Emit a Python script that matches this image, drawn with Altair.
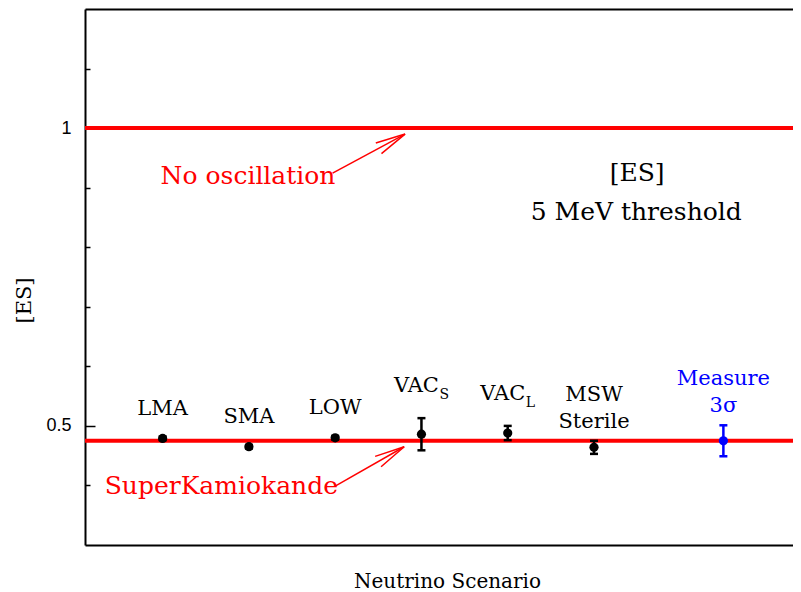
import math
import altair as alt
import pandas as pd

# ---------------- data ----------------
scenarios = ["LMA", "SMA", "LOW", "VAC_S", "VAC_L", "MSW Sterile", "Measure 3σ"]
x_pos = [1, 2, 3, 4, 5, 6, 7.5]
es_values = [0.479, 0.465, 0.480, 0.486, 0.488, 0.464, 0.475]
es_errors = [0.003, 0.003, 0.003, 0.027, 0.012, 0.011, 0.026]
label_main = ["LMA", "SMA", "LOW", "VAC", "VAC", "Sterile", "3σ"]
label_sub = ["", "", "", "S", "L", "", ""]
label_top = ["", "", "", "", "", "MSW", "Measure"]
kinds = ["model", "model", "model", "model", "model", "model", "measure"]

ref_names = ["No oscillation", "SuperKamiokande"]
ref_values = [1.0, 0.475]
ref_text_x = [1.99, 1.68]
ref_text_y = [0.906, 0.386]
arrow_x1 = [2.97, 3.00]
arrow_y1 = [0.9245, 0.399]
arrow_x2 = [3.81, 3.80]
arrow_y2 = [0.99, 0.465]

info_text = ["[ES]", "5 MeV threshold"]
info_x = [6.5, 6.49]
info_y = [0.911, 0.846]

major_ticks = [0.5, 1.0]
minor_ticks = [0.4, 0.6, 0.7, 0.8, 0.9, 1.1]

X_DOMAIN = [0.1, 8.307]
Y_DOMAIN = [0.3, 1.2]
W, H = 708, 536

# ---------------- tables ----------------
df = pd.DataFrame({
    "scenario": scenarios, "x": x_pos, "value": es_values, "err": es_errors,
    "main": label_main, "sub": label_sub, "top": label_top, "kind": kinds,
})
df["lower"] = df["value"] - df["err"]
df["upper"] = df["value"] + df["err"]
df_plain = df[(df["sub"] == "") & (df["top"] == "")]
df_vac = df[df["sub"] != ""]
df_top = df[df["top"] != ""]

ref = pd.DataFrame({
    "name": ref_names, "value": ref_values, "tx": ref_text_x, "ty": ref_text_y,
    "x1": arrow_x1, "y1": arrow_y1, "x2": arrow_x2, "y2": arrow_y2,
})
px_x = W / (X_DOMAIN[1] - X_DOMAIN[0])
px_y = H / (Y_DOMAIN[1] - Y_DOMAIN[0])
ref["angle"] = [
    (math.degrees(math.atan2(-(b2 - b1) * px_y, (a2 - a1) * px_x)) + 360) % 360
    for a1, b1, a2, b2 in zip(arrow_x1, arrow_y1, arrow_x2, arrow_y2)
]
info = pd.DataFrame({"text": info_text, "x": info_x, "y": info_y})

# ---------------- scales / axes ----------------
SERIF = "DejaVu Serif"
xs = alt.Scale(domain=X_DOMAIN, nice=False, zero=False)
ys = alt.Scale(domain=Y_DOMAIN, nice=False, zero=False)

x_axis_bottom = alt.Axis(title="Neutrino Scenario", labels=False, ticks=False, domain=True,
                         domainColor="black", domainWidth=2, grid=False, orient="bottom",
                         titleFont=SERIF, titleFontSize=20, titleFontWeight="normal",
                         titleColor="black", titlePadding=26, titleX=362, titleAlign="center",
                         titleAnchor="start")
x_axis_top = alt.Axis(title=None, labels=False, ticks=False, domain=True, domainColor="black",
                      domainWidth=2, grid=False, orient="top")


def X(field, axis=None):
    return alt.X(f"{field}:Q", scale=xs, axis=axis)


label_axis = alt.Axis(values=major_ticks, format="~g", ticks=False, domain=True,
                      domainColor="black", domainWidth=2, grid=False,
                      labelFont="Liberation Sans", labelFontSize=18, labelColor="black",
                      labelPadding=14, title="[ES]", titleFont=SERIF, titleFontSize=21,
                      titleFontWeight="normal", titleColor="black", titleAngle=270,
                      titleX=-61, titleY=291, titleAlign="center", titleBaseline="middle",
                      orient="left")
major_axis = alt.Axis(values=major_ticks, orient="right", offset=-W, labels=False,
                      domain=False, grid=False, ticks=True, tickSize=10, tickWidth=1.5,
                      tickColor="black", title=None)
minor_axis = alt.Axis(values=minor_ticks, orient="right", offset=-W, labels=False,
                      domain=False, grid=False, ticks=True, tickSize=5, tickWidth=1.5,
                      tickColor="black", title=None)

color = alt.Color("kind:N", scale=alt.Scale(domain=["model", "measure"], range=["black", "#0000ff"]),
                  legend=None)

# ---------------- layers ----------------
ref_lines = alt.Chart(ref).mark_rule(color="#ff0000", strokeWidth=4).encode(
    y=alt.Y("value:Q", scale=ys, axis=label_axis)
)

err_bars = alt.Chart(df).mark_rule(strokeWidth=2.5).encode(
    x=X("x"), y=alt.Y("lower:Q", scale=ys, axis=minor_axis), y2="upper:Q", color=color
)
cap_shape = "M -1 0 L 1 0"
cap_lo = alt.Chart(df).mark_point(shape=cap_shape, size=64, filled=False, strokeWidth=2.5,
                                  opacity=1).encode(
    x=X("x"), y=alt.Y("lower:Q", scale=ys, axis=None), color=color
)
cap_hi = alt.Chart(df).mark_point(shape=cap_shape, size=64, filled=False, strokeWidth=2.5,
                                  opacity=1).encode(
    x=X("x"), y=alt.Y("upper:Q", scale=ys, axis=None), color=color
)
dots = alt.Chart(df).mark_point(shape="circle", filled=True, size=85, opacity=1).encode(
    x=X("x", x_axis_bottom), y=alt.Y("value:Q", scale=ys, axis=major_axis), color=color
)

LBL = 21
lab_plain = alt.Chart(df_plain).mark_text(font=SERIF, fontSize=LBL, align="center",
                                          baseline="alphabetic", dy=-22).encode(
    x=X("x"), y=alt.Y("upper:Q", scale=ys, axis=None), text="main:N", color=color
)
lab_vac = alt.Chart(df_vac).mark_text(font=SERIF, fontSize=LBL, align="center",
                                      baseline="alphabetic", dy=-26, dx=-5).encode(
    x=X("x"), y=alt.Y("upper:Q", scale=ys, axis=None), text="main:N", color=color
)
lab_sub = alt.Chart(df_vac).mark_text(font=SERIF, fontSize=14, align="left",
                                      baseline="alphabetic", dy=-19, dx=18).encode(
    x=X("x"), y=alt.Y("upper:Q", scale=ys, axis=None), text="sub:N", color=color
)
lab_two = alt.Chart(df_top).mark_text(font=SERIF, fontSize=LBL, align="center",
                                      baseline="alphabetic", dy=-13).encode(
    x=X("x"), y=alt.Y("upper:Q", scale=ys, axis=None), text="main:N", color=color
)
lab_top = alt.Chart(df_top).mark_text(font=SERIF, fontSize=LBL, align="center",
                                      baseline="alphabetic", dy=-40).encode(
    x=X("x"), y=alt.Y("upper:Q", scale=ys, axis=None), text="top:N", color=color
)

ref_text = alt.Chart(ref).mark_text(font=SERIF, fontSize=25, color="#ff0000", align="center",
                                    baseline="alphabetic").encode(
    x=X("tx"), y=alt.Y("ty:Q", scale=ys, axis=None), text="name:N"
)
shafts = alt.Chart(ref).mark_rule(color="#ff0000", strokeWidth=1.5).encode(
    x=X("x1"), y=alt.Y("y1:Q", scale=ys, axis=None), x2="x2:Q", y2="y2:Q"
)
heads = alt.Chart(ref).mark_point(shape="M -1 -0.2 L 0 0 L -1 0.2", size=3600, filled=False,
                                  color="#ff0000", strokeWidth=1.5, opacity=1).encode(
    x=X("x2"), y=alt.Y("y2:Q", scale=ys, axis=None), angle=alt.Angle("angle:Q", scale=None)
)
info_layer = alt.Chart(info).mark_text(font=SERIF, fontSize=25, color="black", align="center",
                                       baseline="alphabetic").encode(
    x=X("x", x_axis_top), y=alt.Y("y:Q", scale=ys, axis=None), text="text:N"
)

chart = alt.layer(
    ref_lines, err_bars, cap_lo, cap_hi, dots, lab_plain, lab_vac, lab_sub, lab_two, lab_top,
    ref_text, shafts, heads, info_layer,
).resolve_axis(y="independent", x="independent").properties(
    width=W, height=H,
    autosize=alt.AutoSizeParams(type="none"),
    padding={"left": 77, "top": 1, "right": 0, "bottom": 54},
    background="white",
).configure_view(stroke=None).configure_axis(grid=False)

chart.save("out.html", embed_options={"renderer": "svg", "actions": False})
